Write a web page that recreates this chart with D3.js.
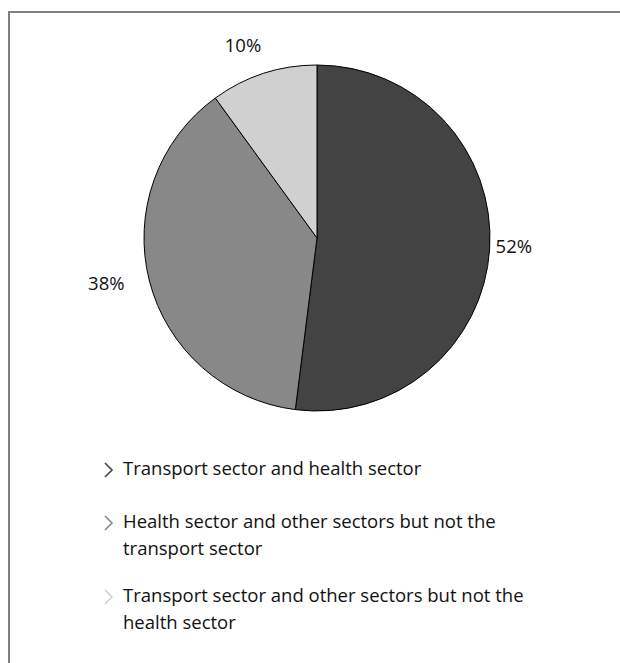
<!DOCTYPE html>
<html>
<head>
<meta charset="utf-8">
<script src="https://cdn.jsdelivr.net/npm/d3@7"></script>
<style>
  html, body { margin: 0; padding: 0; background: #fff; }
  svg { display: block; }
  text { font-family: "Open Sans", "Noto Sans", sans-serif; fill: #111; }
</style>
</head>
<body>
<script>
// Share of respondents by sector combination
const categories = [
  ["Transport sector and health sector"],
  ["Health sector and other sectors but not the", "transport sector"],
  ["Transport sector and other sectors but not the", "health sector"]
];
const values = [52, 38, 10];
const colors = ["#434343", "#888888", "#d0d0d0"];

const W = 620, H = 663;
const svg = d3.select("body").append("svg").attr("width", W).attr("height", H);

// Frame: top and left rules only
svg.append("path")
  .attr("d", `M9,${H} L9,12 L${W},12`)
  .attr("fill", "none")
  .attr("stroke", "#808080")
  .attr("stroke-width", 2);

const cx = 317, cy = 238, R = 173;
const g = svg.append("g").attr("transform", `translate(${cx},${cy})`);

const pie = d3.pie().sort(null).value(d => d)(values);
const arc = d3.arc().innerRadius(0).outerRadius(R);

g.selectAll("path.slice").data(pie).join("path")
  .attr("class", "slice")
  .attr("d", arc)
  .attr("fill", (d, i) => colors[i])
  .attr("stroke", "#000")
  .attr("stroke-width", 1);

// Outside-end labels: box pushed beyond the rim along the mid-angle,
// with a small fixed up-left nudge
const fs = 18.5;
const labelR = R + 16, nudgeX = 10, nudgeY = 5;
g.selectAll("text.lab").data(pie).join("text")
  .attr("class", "lab")
  .attr("font-size", fs)
  .attr("text-anchor", "middle")
  .attr("dominant-baseline", "central")
  .text(d => d.value + "%")
  .each(function(d) {
    const a = (d.startAngle + d.endAngle) / 2;
    const s = Math.sin(a), c = -Math.cos(a);
    const bw = this.getComputedTextLength(), bh = fs;
    const x = labelR * s + (bw / 2) * s - nudgeX;
    const y = labelR * c + (bh / 2) * c - nudgeY;
    d3.select(this).attr("x", x).attr("y", y);
  });

// Legend with chevron markers
const legendY = d3.scaleOrdinal().domain(d3.range(categories.length)).range([475, 528, 602]);
const lineH = 27;
const lg = svg.append("g");
categories.forEach((lines, i) => {
  const y0 = legendY(i);
  lg.append("path")
    .attr("d", `M105,${y0 - 12} L112,${y0 - 5} L105,${y0 + 2}`)
    .attr("fill", "none")
    .attr("stroke", colors[i])
    .attr("stroke-width", 1.6);
  const t = lg.append("text").attr("font-size", fs).attr("x", 123).attr("y", y0);
  lines.forEach((ln, j) => {
    t.append("tspan").attr("x", 123).attr("y", y0 + j * lineH).text(ln);
  });
});
</script>
</body>
</html>
